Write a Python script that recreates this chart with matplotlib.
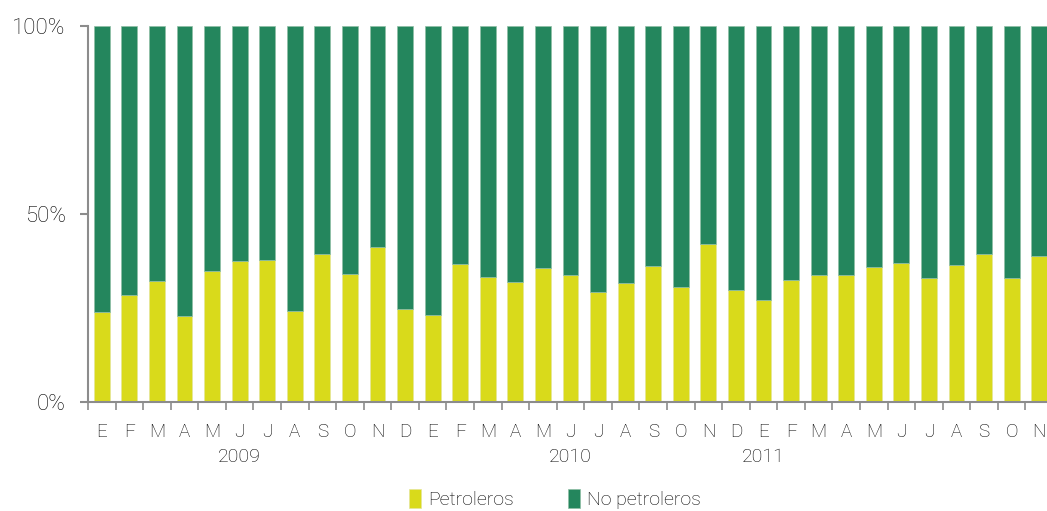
import matplotlib
matplotlib.use('Agg')
import matplotlib.pyplot as plt
import numpy as np

plt.rcParams['font.family'] = ['Roboto', 'DejaVu Sans']
plt.rcParams['font.weight'] = 'light'

# data (percent of total)
months = list('EFMAMJJASOND') + list('EFMAMJJASOND') + list('EFMAMJJASON')
petroleros = [24.0, 28.4, 32.1, 22.9, 34.8, 37.6, 37.7, 24.2, 39.3, 33.9, 41.3, 24.7,
              23.1, 36.7, 33.3, 31.8, 35.6, 33.8, 29.1, 31.6, 36.1, 30.6, 42.0, 29.7,
              27.0, 32.4, 33.7, 33.7, 35.9, 36.9, 33.0, 36.5, 39.4, 32.9, 38.9]
no_petroleros = [76.0, 71.6, 67.9, 77.1, 65.2, 62.4, 62.3, 75.8, 60.7, 66.1, 58.7, 75.3,
                 76.9, 63.3, 66.7, 68.2, 64.4, 66.2, 70.9, 68.4, 63.9, 69.4, 58.0, 70.3,
                 73.0, 67.6, 66.3, 66.3, 64.1, 63.1, 67.0, 63.5, 60.6, 67.1, 61.1]
years = ['2009', '2010', '2011']
year_pos = [5, 17, 24]

yellow = '#d9da1b'
green = '#24865d'
axis_col = '#8c8c8c'
text_col = '#000000'

fig = plt.figure(figsize=(10.47, 5.11), dpi=100)
W, H = 1047, 511
ax = fig.add_axes([88 / W, (H - 401.7) / H, (1053 - 88) / W, 375.4 / H])

x = np.arange(len(months))
ax.bar(x, petroleros, width=0.58, color=yellow, edgecolor='#e4e69a', linewidth=0.5,
       label='Petroleros')
ax.bar(x, no_petroleros, width=0.58, bottom=petroleros, color=green,
       edgecolor='#8fbfa5', linewidth=0.5, label='No petroleros')

ax.set_xlim(-0.5, len(months) - 0.5)
ax.set_ylim(0, 100)

for side in ['top', 'right']:
    ax.spines[side].set_visible(False)
for side in ['left', 'bottom']:
    ax.spines[side].set_color(axis_col)
    ax.spines[side].set_linewidth(1.5)

ax.set_yticks([0, 50, 100])
ax.set_yticklabels(['0%', '50%', '100%'], fontsize=16, color=text_col)
ax.tick_params(axis='y', length=6, width=1.5, color=axis_col, pad=10)

# ticks between categories, labels at bar centres
ax.set_xticks(np.arange(len(months) + 1) - 0.5)
ax.set_xticklabels([])
ax.set_xticks(x, minor=True)
ax.set_xticklabels(months, minor=True, fontsize=13.5, color=text_col)
ax.tick_params(axis='x', which='major', length=6, width=1.2, color=axis_col)
ax.tick_params(axis='x', which='minor', length=0, pad=15)

trans = matplotlib.transforms.blended_transform_factory(ax.transData, fig.transFigure)
for yr, pos in zip(years, year_pos):
    ax.text(pos, (H - 457) / H, yr, transform=trans, ha='center', va='center',
            fontsize=14, color=text_col)

# legend kept just inside the bottom edge
fig.legend(loc='center', bbox_to_anchor=(555 / W, (H - 499) / H), ncol=2, frameon=False,
           fontsize=14, handlelength=0.6, handleheight=1.1, handletextpad=0.35,
           columnspacing=2.8, borderpad=0.1)

fig.savefig('out.png', dpi=100)
